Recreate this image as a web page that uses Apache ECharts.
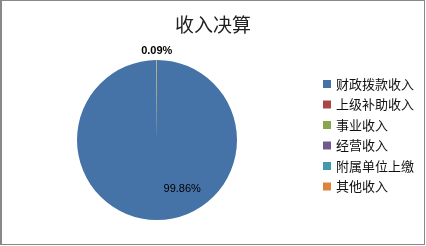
<!DOCTYPE html>
<html><head><meta charset="utf-8">
<script src="https://cdn.jsdelivr.net/npm/echarts@6/dist/echarts.min.js"></script>
<style>
html,body{margin:0;padding:0;background:#fff;}
#frame{position:absolute;left:0;top:0;width:425px;height:245px;box-sizing:border-box;border:1px solid #888;border-left-width:2px;}
#c{position:absolute;left:0;top:0;width:426px;height:246px;}
</style></head>
<body>
<div id="frame"></div>
<div id="c"></div>
<script>
const title = '收入决算';
const categories = ['财政拨款收入','上级补助收入','事业收入','经营收入','附属单位上缴','其他收入'];
const values = [99.86, 0.00, 0.09, 0.00, 0.00, 0.05];
const colors = ['#4572A7','#AA4643','#89A54E','#71588F','#4198AF','#DB843D'];

const chart = echarts.init(document.getElementById('c'), null, {renderer:'canvas'});
const data = categories.map((n,i)=>({
  name:n, value:values[i],
  label: i===0 ? {position:'inside', offset:[25,6]} : {position:'inside', offset:[0,-46], fontWeight:'bold'}
}));
chart.setOption({
  animation:false,
  color:colors,
  title:{text:title,left:'center',top:10,textStyle:{fontFamily:'Noto Sans CJK SC',fontSize:19,fontWeight:'normal',color:'#222'}},
  legend:{
    orient:'vertical',left:318,top:72.5,itemWidth:8,itemHeight:8,itemGap:7.5,icon:'rect',
    data:categories,
    textStyle:{fontFamily:'Noto Sans CJK SC',fontSize:13,lineHeight:13,color:'#111'}
  },
  series:[{
    type:'pie',center:[157,140],radius:[0,80],startAngle:90,clockwise:true,
    avoidLabelOverlap:false,minShowLabelAngle:0,
    itemStyle:{borderWidth:0},
    label:{show:true,formatter:p=>p.value.toFixed(2)+'%',fontFamily:'Liberation Sans',fontSize:11,color:'#000'},
    labelLine:{show:false},
    emphasis:{disabled:true},
    data:data
  }]
});
</script>
</body></html>
